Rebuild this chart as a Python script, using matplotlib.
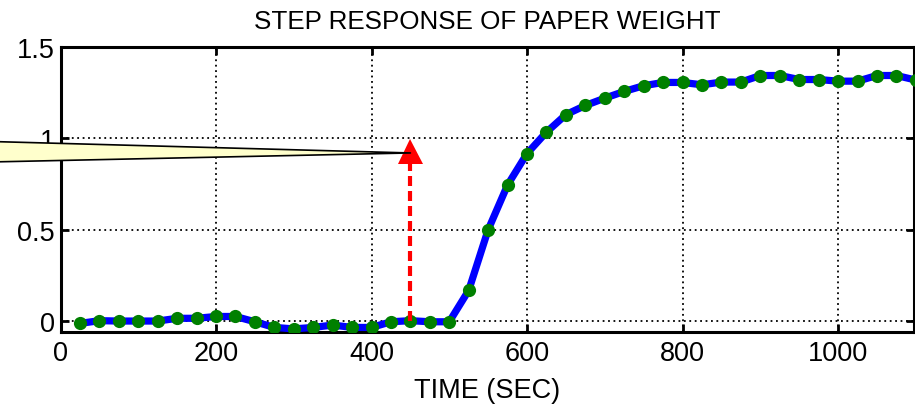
import matplotlib

matplotlib.use("Agg")
import matplotlib.pyplot as plt

plt.rcParams["font.family"] = ["Liberation Sans", "DejaVu Sans"]

# step response samples (sec, response)
time_sec = [25, 50, 75, 100, 125, 150, 175, 200, 225, 250, 275, 300, 325, 350,
            375, 400, 425, 450, 475, 500, 525, 550, 575, 600, 625, 650, 675, 700,
            725, 750, 775, 800, 825, 850, 875, 900, 925, 950, 975, 1000, 1025,
            1050, 1075, 1100]
response = [-0.013, 0.002, 0.0, 0.0, 0.0, 0.015, 0.015, 0.025, 0.025, -0.004,
            -0.035, -0.043, -0.035, -0.022, -0.035, -0.035, -0.004, 0.002, -0.004,
            -0.004, 0.168, 0.50, 0.745, 0.917, 1.034, 1.13, 1.18, 1.22, 1.257,
            1.288, 1.306, 1.306, 1.293, 1.308, 1.308, 1.344, 1.344, 1.322, 1.322,
            1.313, 1.313, 1.344, 1.344, 1.319]

# marked event
event_time = 450
event_level = 0.93

x_ticks = [0, 200, 400, 600, 800, 1000]
y_ticks = [0, 0.5, 1, 1.5]
y_tick_labels = ["0", "0.5", "1", "1.5"]

fig = plt.figure(figsize=(9.15, 4.06), dpi=100)
ax = fig.add_axes([60.5 / 915, 1 - 333 / 406, (913.5 - 60.5) / 915, (333 - 48) / 406])

ax.plot(time_sec, response, color="#0000ff", linewidth=5.2, zorder=3)
ax.plot(time_sec, response, linestyle="none", marker="o", markersize=9.5,
        color="#008000", markeredgewidth=0, zorder=4)

ax.plot([event_time, event_time], [0, event_level], color="#ff0000",
        linewidth=3, linestyle=(0, (2.4, 1.2)), zorder=5)
ax.plot([event_time], [event_level], marker="^", markersize=18,
        color="#ff0000", markeredgewidth=0, linestyle="none", zorder=6)

# callout wedge coming in from the left
ax.annotate("", xy=(event_time, event_level - 0.01), xycoords="data",
            xytext=(-512, 1.5), textcoords="offset points",
            annotation_clip=False,
            arrowprops=dict(arrowstyle="wedge,tail_width=2.5", mutation_scale=10,
                            fc="#ffffcc", ec="black", lw=1.2,
                            shrinkA=0, shrinkB=0),
            zorder=7)

ax.set_xlim(0, 1097)
ax.set_ylim(-0.06, 1.5)
ax.set_xticks(x_ticks)
ax.set_yticks(y_ticks)
ax.set_yticklabels(y_tick_labels)
ax.grid(True, color="black", linestyle=(0, (1, 2)), linewidth=1.3)
ax.tick_params(direction="in", length=6, width=2, top=True, right=True,
               labelsize=19.5)
ax.tick_params(axis="x", pad=6)
ax.tick_params(axis="y", pad=4)
for spine in ax.spines.values():
    spine.set_linewidth(2.2)

ax.set_title("STEP RESPONSE OF PAPER WEIGHT", fontsize=18.7, pad=14)
ax.set_xlabel("TIME (SEC)", fontsize=19.5, labelpad=8)

fig.savefig("out.png", dpi=100)
